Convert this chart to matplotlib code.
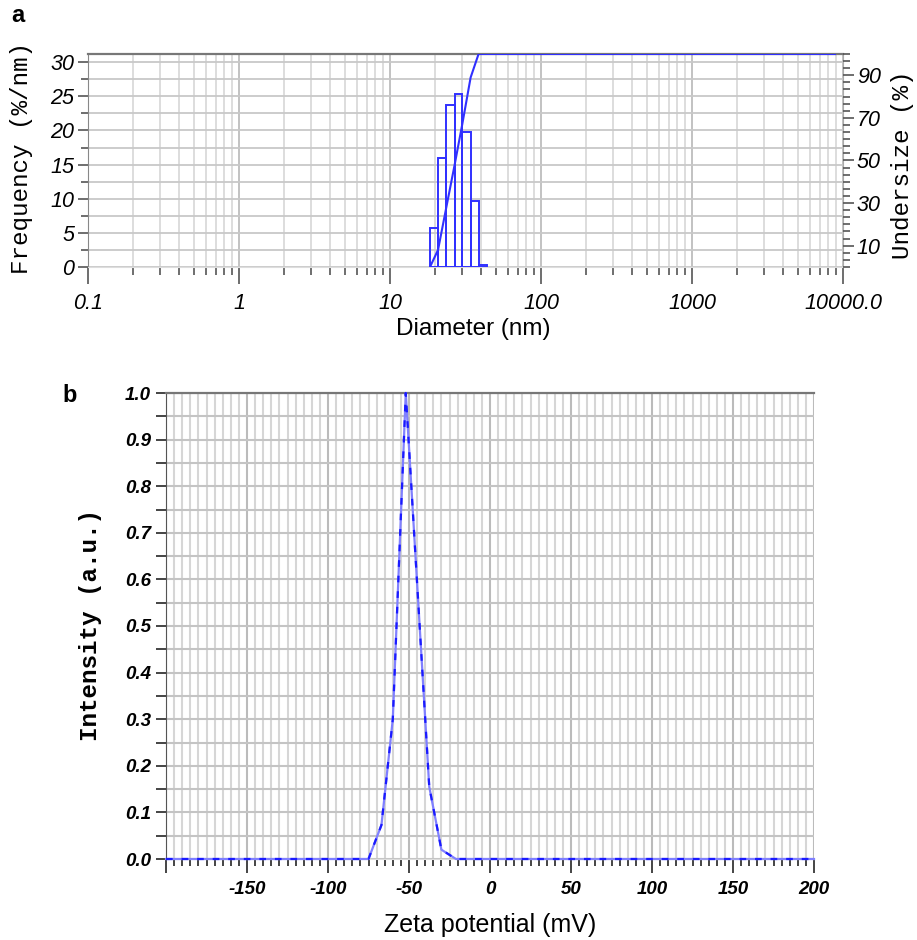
import numpy as np
import matplotlib
matplotlib.use("Agg")
import matplotlib.pyplot as plt
from matplotlib.ticker import MultipleLocator, LogLocator, FixedLocator, NullFormatter, FuncFormatter

plt.rcParams['axes.unicode_minus'] = False

# panel a: size distribution (histogram bins in nm, frequency %/nm)
bin_edges = [18.4, 20.8, 23.6, 26.8, 30.1, 34.2, 38.6, 43.6]
frequency = [5.7, 16.0, 23.7, 25.3, 19.8, 9.7, 0.3]
# cumulative undersize curve
size_cum = [18.4, 20.8, 23.6, 26.8, 30.1, 34.2, 38.6, 8850]
undersize = [0, 8, 28, 48, 67, 89, 100, 100]

# panel b: zeta potential distribution
zeta = [-200, -75, -67, -60, -52, -37.5, -30, -21, 200]
intensity = [0, 0, 0.073, 0.30, 1.0, 0.155, 0.02, 0, 0]

W, H = 917, 940
fig = plt.figure(figsize=(W / 100, H / 100), dpi=100)

mono = 'Liberation Mono'
sans = 'Liberation Sans'
blue = '#3030ff'

decade_labels = {0.1: '0.1', 1: '1', 10: '10', 100: '100', 1000: '1000', 10000: '10000.0'}


def box(l, t, r, b):
    return [l / W, 1 - b / H, (r - l) / W, (b - t) / H]


# ---------------- panel a ----------------
ax = fig.add_axes(box(88, 54, 843, 267))
ax.set_xscale('log')
ax.set_xlim(0.1, 10000)
ax.set_ylim(0, 31.2)

edges = np.array(bin_edges)
ax.bar(edges[:-1], frequency, width=np.diff(edges), align='edge',
       fill=False, edgecolor=blue, linewidth=1.4, zorder=3)

ax.xaxis.set_major_locator(LogLocator(base=10, numticks=10))
ax.xaxis.set_minor_locator(LogLocator(base=10, subs=np.arange(2, 10), numticks=50))
ax.xaxis.set_minor_formatter(NullFormatter())
ax.xaxis.set_major_formatter(FuncFormatter(lambda v, p: decade_labels.get(round(v, 4), '')))
ax.yaxis.set_major_locator(MultipleLocator(5))
ax.yaxis.set_minor_locator(MultipleLocator(2.5))

ax.grid(True, which='major', axis='x', color='#bdbdbd', lw=1.3)
ax.grid(True, which='minor', axis='x', color='#dadada', lw=1.3)
ax.grid(True, which='both', axis='y', color='#c8c8c8', lw=1.3)
ax.set_axisbelow(True)

ax.tick_params(axis='x', which='major', direction='out', length=12, width=1.2, color='#555555', pad=7)
ax.tick_params(axis='x', which='minor', direction='out', length=6, width=1.2, color='#555555')
ax.tick_params(axis='y', which='major', direction='out', length=7, width=1.2, color='#555555', pad=3)
ax.tick_params(axis='y', which='minor', direction='out', length=5, width=1.2, color='#555555')
for lab in ax.get_xticklabels() + ax.get_yticklabels():
    lab.set_fontfamily(sans)
    lab.set_fontstyle('italic')
    lab.set_fontsize(15.5)

ax.spines['top'].set_color('#777777')
ax.spines['top'].set_linewidth(1.6)
ax.spines['left'].set_color('#888888')
ax.spines['bottom'].set_color('#dddddd')
ax.spines['right'].set_color('#aaaaaa')

ax2 = ax.twinx()
ax2.set_ylim(0, 100)
ax2.plot(size_cum, undersize, color=blue, lw=1.5, zorder=4)
ax2.yaxis.set_major_locator(FixedLocator([10, 30, 50, 70, 90]))
ax2.yaxis.set_minor_locator(MultipleLocator(10 / 3))
ax2.tick_params(axis='y', which='major', direction='out', length=8, width=1.2, color='#555555', pad=2)
ax2.tick_params(axis='y', which='minor', direction='out', length=5, width=1.2, color='#555555')
for lab in ax2.get_yticklabels():
    lab.set_fontfamily(sans)
    lab.set_fontstyle('italic')
    lab.set_fontsize(15.5)
for s in ax2.spines.values():
    s.set_visible(False)

fig.text(22 / W, 1 - 158 / H, 'Frequency (%/nm)', family=mono, fontsize=17.5,
         rotation=90, ha='center', va='center')
fig.text(903 / W, 1 - 165 / H, 'Undersize (%)', family=mono, fontsize=17.5,
         rotation=90, ha='center', va='center')
fig.text(473 / W, 1 - 329 / H, 'Diameter (nm)', family=sans, fontsize=17.5,
         ha='center', va='center')
fig.text(18 / W, 1 - 16 / H, 'a', family=sans, fontsize=17, weight='bold',
         ha='center', va='center')

# ---------------- panel b ----------------
bx = fig.add_axes(box(166, 393, 814, 859))
bx.set_xlim(-200, 200)
bx.set_ylim(0, 1.0)

bx.plot(zeta, intensity, color='#8080ff', lw=1.6, zorder=3, clip_on=False)
bx.plot(zeta, intensity, color='#1a1aff', lw=1.6, ls=(0, (3, 4)), zorder=4, clip_on=False)

bx.xaxis.set_major_locator(MultipleLocator(50))
bx.xaxis.set_minor_locator(MultipleLocator(5))
bx.yaxis.set_major_locator(MultipleLocator(0.1))
bx.yaxis.set_minor_locator(MultipleLocator(0.05))
bx.xaxis.set_major_formatter(FuncFormatter(lambda v, p: '' if v <= -200 else '%d' % v))
bx.yaxis.set_major_formatter(FuncFormatter(lambda v, p: '%.1f' % v))

bx.grid(True, which='major', axis='x', color='#bbbbbb', lw=1.5)
bx.grid(True, which='minor', axis='x', color='#d6d6d6', lw=1.5)
bx.grid(True, which='both', axis='y', color='#c4c4c4', lw=1.5)
bx.set_axisbelow(True)

bx.tick_params(axis='x', which='major', direction='out', length=10, width=1.4, color='#444444', pad=6)
bx.tick_params(axis='x', which='minor', direction='out', length=5, width=1.4, color='#444444')
bx.tick_params(axis='y', which='major', direction='out', length=7, width=1.4, color='#444444', pad=4)
bx.tick_params(axis='y', which='minor', direction='out', length=7, width=1.4, color='#444444')
for lab in bx.get_xticklabels() + bx.get_yticklabels():
    lab.set_fontfamily(sans)
    lab.set_fontstyle('italic')
    lab.set_fontweight('bold')
    lab.set_fontsize(13.5)

bx.spines['top'].set_color('#777777')
bx.spines['top'].set_linewidth(1.6)
bx.spines['left'].set_color('#555555')
bx.spines['bottom'].set_color('#dddddd')
bx.spines['right'].set_visible(False)

fig.text(90 / W, 1 - 625 / H, 'Intensity (a.u.)', family=mono, fontsize=17.5,
         weight='bold', rotation=90, ha='center', va='center')
fig.text(490 / W, 1 - 925 / H, 'Zeta potential (mV)', family=sans, fontsize=18,
         ha='center', va='center')
fig.text(70 / W, 1 - 395 / H, 'b', family=sans, fontsize=17, weight='bold',
         ha='center', va='center')

plt.savefig('out.png', dpi=100)
